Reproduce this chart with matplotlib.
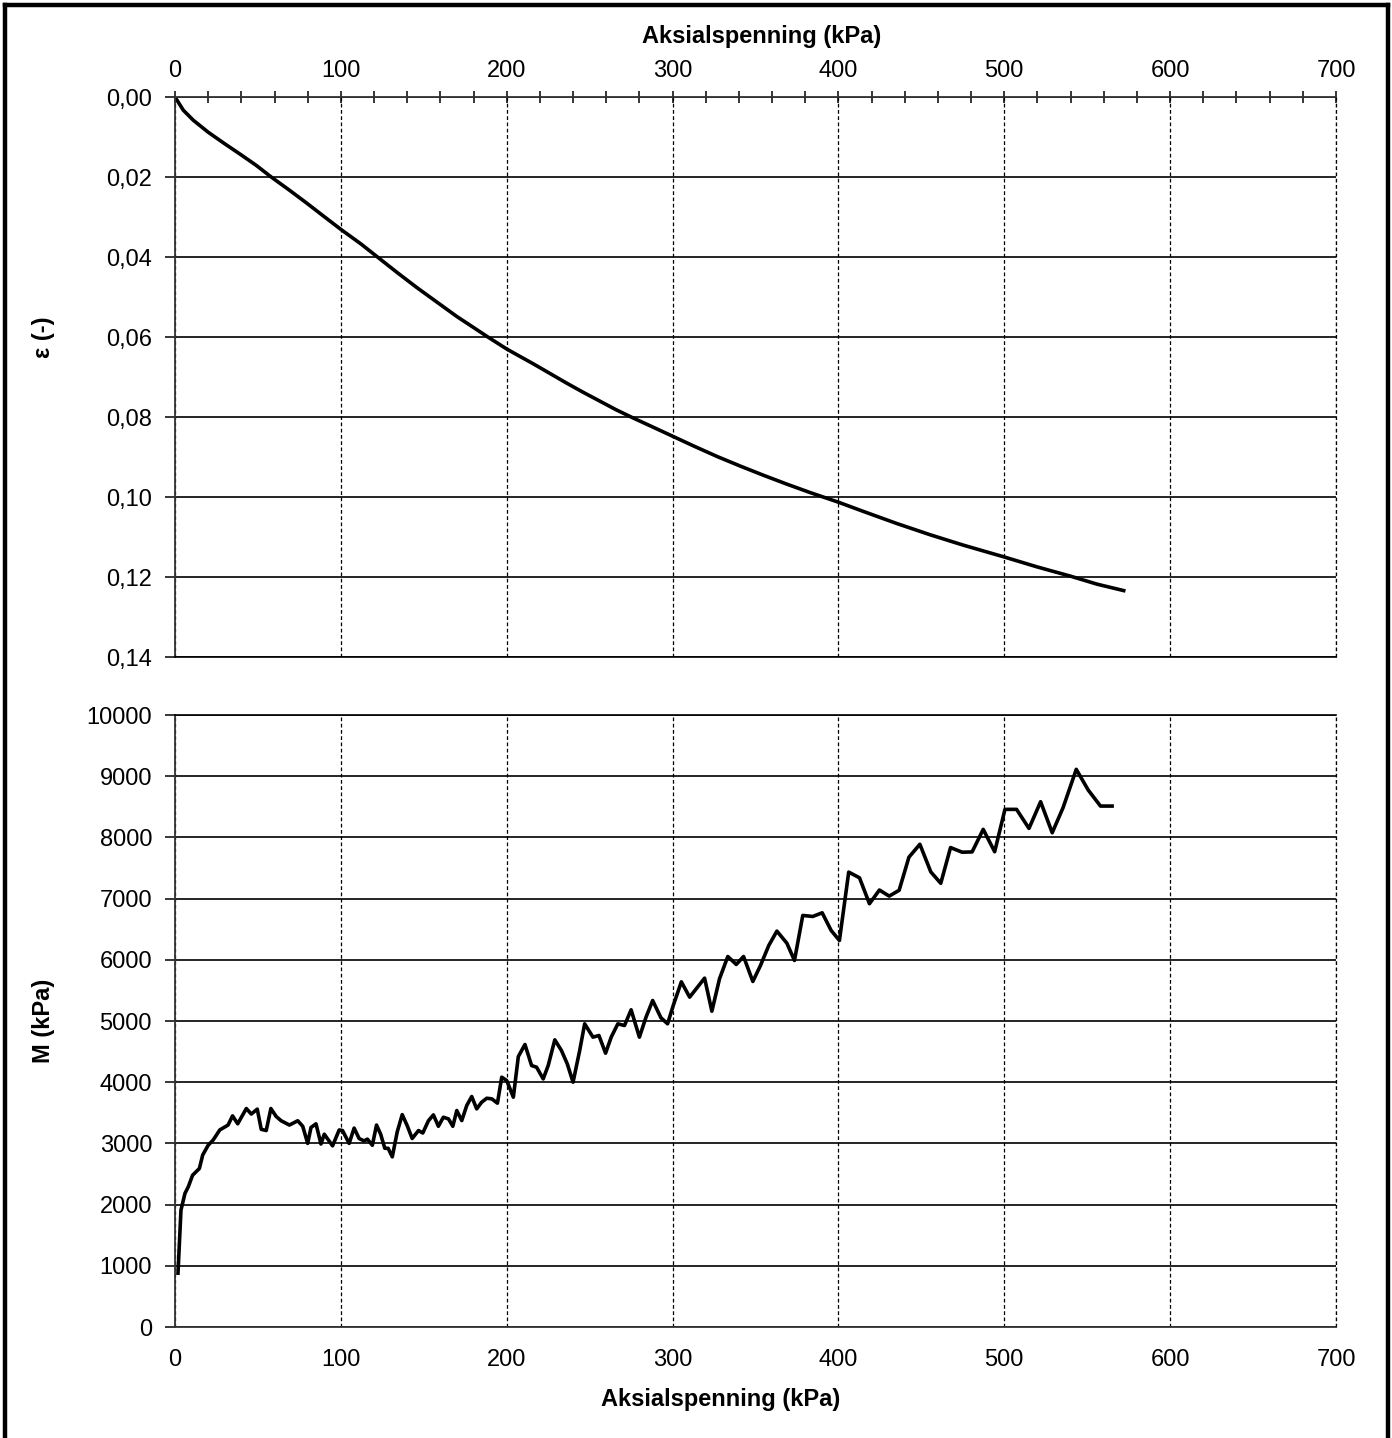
import matplotlib
matplotlib.use("Agg")
import matplotlib.pyplot as plt
from matplotlib.ticker import FuncFormatter, MultipleLocator
from matplotlib.lines import Line2D

plt.rcParams["font.family"] = ["Liberation Sans", "DejaVu Sans"]
plt.rcParams["font.size"] = 17

# strain curve
sig_eps = [0, 5, 11, 20, 30, 40, 49, 58, 69, 79, 89, 100, 112, 123, 134, 146,
           158, 170, 181, 189, 200, 206, 216, 226, 236, 246, 256, 266, 276, 287,
           300, 313, 327, 341, 355, 369, 383, 400, 415, 435, 455, 475, 500, 520,
           540, 556, 572]
eps = [0.0, 0.0033, 0.0058, 0.0088, 0.0117, 0.0145, 0.0171, 0.0200, 0.0233,
       0.0264, 0.0296, 0.0331, 0.0367, 0.0403, 0.0439, 0.0477, 0.0513, 0.0549,
       0.0579, 0.0601, 0.0630, 0.0644, 0.0667, 0.0691, 0.0715, 0.0738, 0.0760,
       0.0782, 0.0802, 0.0823, 0.0848, 0.0873, 0.0899, 0.0923, 0.0946, 0.0968,
       0.0989, 0.1013, 0.1036, 0.1066, 0.1094, 0.1120, 0.1150, 0.1175, 0.1198,
       0.1218, 0.1234]

# modulus curve
sig_m = [1.8, 3.6, 6, 8, 10.6, 14.7, 16.7, 20, 23, 27, 32, 34.7, 37.8, 43, 46,
         49.6, 52, 55, 57.8, 61, 64, 69, 74, 77, 80, 82, 85, 88, 90, 95, 99, 101,
         105, 108, 111, 114, 116, 119, 121.5, 124, 126.5, 128.5, 131, 134, 137,
         140, 143, 146.8, 149.4, 152.8, 155.8, 158.8, 161.8, 164.9, 167.5, 169.9,
         172.9, 175.9, 178.9, 181.9, 184.9, 188, 191, 194.4, 197, 200, 204, 207,
         211, 215, 218, 222, 225, 229, 233, 236.5, 240, 244, 247, 252, 255.6,
         259.6, 263, 267, 271, 275, 280, 284, 288, 293, 297, 300.4, 305.3, 310.3,
         319.3, 323.7, 328.3, 333.3, 338.4, 342.8, 348.4, 353, 358, 362.9, 368.9,
         373.5, 378.5, 384.5, 390.2, 395.6, 400.6, 406.2, 412.7, 418.7, 424.7,
         430.6, 436.6, 442.5, 449.1, 455.7, 461.7, 467.6, 474.6, 480.6, 487.3,
         494.2, 500.4, 507.4, 514.9, 521.9, 528.9, 535.5, 543.4, 550.6, 558, 565]
mod = [880, 1910, 2183, 2290, 2480, 2590, 2810, 2970, 3055, 3220, 3300, 3450,
       3320, 3570, 3480, 3560, 3230, 3210, 3570, 3440, 3370, 3300, 3370, 3280,
       3000, 3260, 3320, 2990, 3150, 2960, 3220, 3210, 3000, 3250, 3080, 3040,
       3070, 2970, 3300, 3150, 2920, 2920, 2780, 3190, 3470, 3290, 3080, 3210,
       3170, 3370, 3466, 3280, 3428, 3400, 3280, 3537, 3373, 3619, 3766, 3564,
       3673, 3738, 3728, 3657, 4082, 4027, 3755, 4420, 4616, 4272, 4245, 4054,
       4272, 4692, 4518, 4300, 4000, 4518, 4954, 4736, 4763, 4474, 4736, 4954,
       4926, 5183, 4736, 5063, 5335, 5052, 4954, 5253, 5640, 5390, 5700, 5160,
       5690, 6054, 5924, 6054, 5646, 5907, 6234, 6469, 6272, 5989, 6725, 6708,
       6768, 6480, 6316, 7433, 7340, 6916, 7140, 7041, 7136, 7676, 7888, 7436,
       7250, 7834, 7758, 7763, 8131, 7766, 8458, 8458, 8147, 8583, 8076, 8490,
       9112, 8774, 8512, 8512]

W, H = 1392, 1438
fig = plt.figure(figsize=(W / 100, H / 100), dpi=100)

left = 175 / W
width = (1336 - 175) / W
ax1 = fig.add_axes([left, 1 - 657 / H, width, (657 - 97) / H])
ax2 = fig.add_axes([left, 1 - 1327 / H, width, (1327 - 715) / H])

comma2 = FuncFormatter(lambda v, p: f"{v:.2f}".replace(".", ","))
dash = (0, (3, 2))

for ax in (ax1, ax2):
    ax.set_xlim(0, 700)
    ax.xaxis.set_major_locator(MultipleLocator(100))
    ax.grid(True, axis="x", color="black", linestyle=dash, linewidth=0.9)
    ax.grid(True, axis="y", color="black", linestyle="-", linewidth=1.2)
    ax.axvline(700, color="black", linestyle=dash, linewidth=0.9, clip_on=False,
               zorder=0.5)
    ax.spines["right"].set_visible(False)
    for s in ax.spines.values():
        s.set_linewidth(1.3)
        s.set_color("#333333")
    ax.tick_params(axis="y", direction="out", length=7, width=1.1, pad=9.5,
                   labelsize=17)
    ax.set_axisbelow(True)

# top panel
ax1.plot(sig_eps, eps, color="black", linewidth=2.6)
ax1.set_ylim(0.14, 0)
ax1.yaxis.set_major_locator(MultipleLocator(0.02))
ax1.yaxis.set_major_formatter(comma2)
ax1.xaxis.set_minor_locator(MultipleLocator(20))
ax1.xaxis.tick_top()
ax1.xaxis.set_label_position("top")
ax1.tick_params(axis="x", which="both", direction="inout", length=8, width=1.1,
                pad=6.5, labelsize=17)
ax1.spines["bottom"].set_color("black")
ax1.spines["bottom"].set_linewidth(1.2)
ax1.set_xlabel("Aksialspenning (kPa)", fontweight="bold", fontsize=17)
ax1.xaxis.set_label_coords(0.5056, 1.096)
ax1.set_ylabel("ε (-)", fontweight="bold", fontsize=17)
ax1.yaxis.set_label_coords(-0.1034, 0.571)

# bottom panel
ax2.plot(sig_m, mod, color="black", linewidth=2.6)
ax2.set_ylim(0, 10000)
ax2.yaxis.set_major_locator(MultipleLocator(1000))
ax2.spines["top"].set_color("black")
ax2.spines["top"].set_linewidth(1.2)
ax2.tick_params(axis="x", direction="out", length=0, pad=15.5, labelsize=17)
ax2.set_xlabel("Aksialspenning (kPa)", fontweight="bold", fontsize=17)
ax2.xaxis.set_label_coords(0.470, -0.0997)
ax2.set_ylabel("M (kPa)", fontweight="bold", fontsize=17)
ax2.yaxis.set_label_coords(-0.1034, 0.5)

# outer frame
lw = 3.2
fig.add_artist(Line2D([5 / W, 5 / W], [0, 1 - 5 / H], color="black", linewidth=lw))
fig.add_artist(Line2D([1388 / W, 1388 / W], [0, 1 - 5 / H], color="black", linewidth=lw))
fig.add_artist(Line2D([5 / W, 1388 / W], [1 - 5 / H, 1 - 5 / H], color="black",
                      linewidth=lw, solid_capstyle="projecting"))

fig.savefig("out.png", dpi=100)
